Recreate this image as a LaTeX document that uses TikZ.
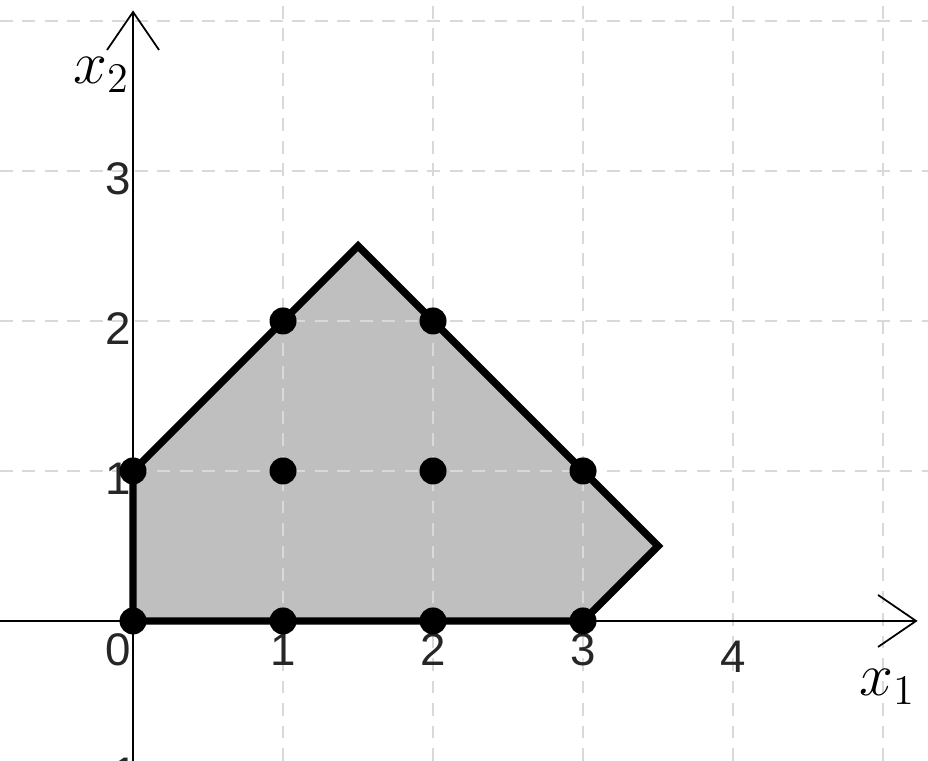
\documentclass[tikz,border=0pt]{standalone}
\usepackage{fontspec}
\newfontfamily\tickfont{Liberation Sans}
\usetikzlibrary{arrows.meta}

\tikzset{
  gridline/.style={gray!30, line width=0.7pt, dash pattern=on 3.6pt off 2.8pt},
  boundary/.style={line width=2.1pt, line join=miter},
  axis/.style={line width=0.8pt, -{Straight Barb[length=3.8mm, width=5.2mm, line width=0.5pt]}},
  ticklabel/.style={font=\tickfont\fontsize{13}{15}\selectfont, text=black!85, inner sep=0pt},
  axislabel/.style={font=\fontsize{18}{20}\selectfont, inner sep=0pt},
  lattice/.style={circle, fill=black, inner sep=0pt, minimum size=0.27cm},
}

\begin{document}
\begin{tikzpicture}[scale=1.5]
% Frame
\clip (-0.887,-0.933) rectangle (5.3,4.14);

% Corners of the region
\coordinate (p0) at (0,0);
\coordinate (p1) at (0,1);
\coordinate (p2) at (1,2);
\coordinate (p3) at (1.5,2.5);
\coordinate (p4) at (2,2);
\coordinate (p5) at (3,1);
\coordinate (p6) at (3.5,0.5);
\coordinate (p7) at (3,0);

% Region
\fill[black!25] (p0) -- (p1) -- (p2) -- (p3) -- (p4) -- (p5) -- (p6) -- (p7) -- cycle;

% Grid
\foreach \k in {1,...,5}
  \draw[gridline] (\k,-0.933) -- (\k,4.14);
\foreach \k in {1,...,4}
  \draw[gridline] (-0.887,\k) -- (5.3,\k);

% Boundary
\draw[boundary] (p0) -- (p1) -- (p2) -- (p3) -- (p4) -- (p5) -- (p6) -- (p7) -- cycle;

% Axes
\coordinate (xs) at (-0.887,0);
\coordinate (xe) at (5.23,0);
\coordinate (ys) at (0,-0.933);
\coordinate (ye) at (0,4.07);
\draw[axis] (xs) -- (xe);
\draw[axis] (ys) -- (ye);
\node[axislabel] (lx1) at (5.03,-0.44) {$x_1$};
\node[axislabel] (lx2) at (-0.21,3.64) {$x_2$};

% Tick labels
\node[ticklabel] (t0) at (-0.1,-0.19) {0};
\foreach \k in {1,2,3}
  \node[ticklabel] (tx\k) at (\k,-0.19) {\k};
\node[ticklabel] (tx4) at (4,-0.24) {4};
\foreach \k in {1,2,3}
  \node[ticklabel] (ty\k) at (-0.1,\k-0.05) {\k};
\node[ticklabel] (tym) at (-0.1,-1.02) {-1};

% Integer points
\foreach \x/\y in {0/0,0/1,1/0,1/1,1/2,2/0,2/1,2/2,3/0,3/1}
  \node[lattice] (d\x\y) at (\x,\y) {};

\end{tikzpicture}
\end{document}
